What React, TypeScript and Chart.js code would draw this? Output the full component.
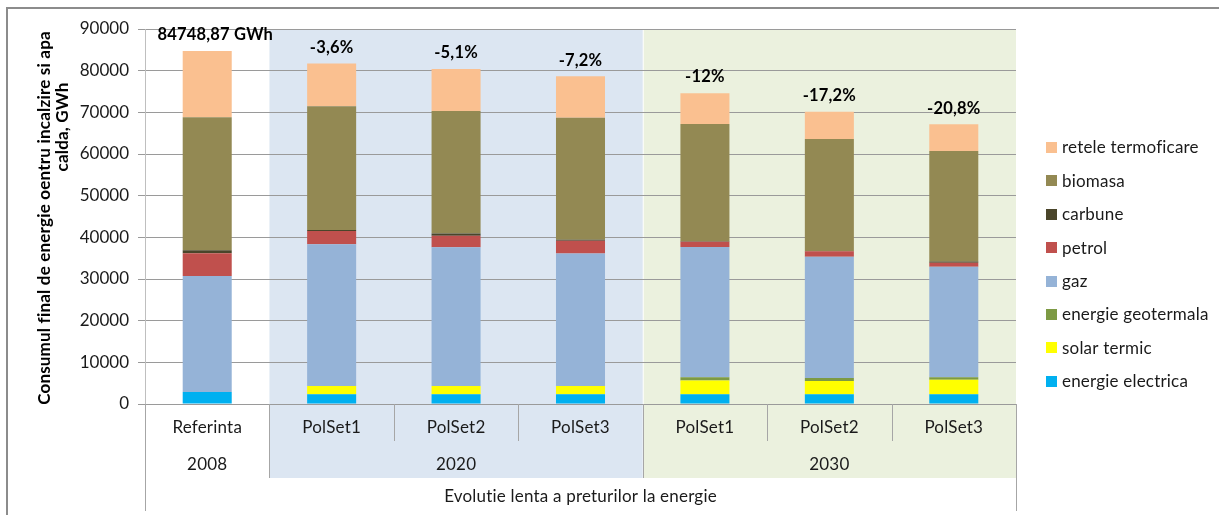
import React, { useEffect, useRef } from 'react';
import { Chart, registerables } from 'chart.js';

Chart.register(...registerables);

const categories = ['Referinta', 'PolSet1', 'PolSet2', 'PolSet3', 'PolSet1', 'PolSet2', 'PolSet3'];
const groupLabels = ['2008', '2020', '2030'];
const groupSizes = [1, 3, 3];
const bottomLabel = 'Evolutie lenta a preturilor la energie';
const topLabels = ['84748,87 GWh', '-3,6%', '-5,1%', '-7,2%', '-12%', '-17,2%', '-20,8%'];
const yTicks = [0, 10000, 20000, 30000, 40000, 50000, 60000, 70000, 80000, 90000];

const energieElectrica = [2900, 2350, 2350, 2350, 2350, 2350, 2350];
const solarTermic = [0, 2000, 2000, 2000, 3300, 3200, 3450];
const energieGeotermala = [0, 0, 0, 0, 800, 700, 650];
const gaz = [27800, 34000, 33300, 31800, 31250, 29100, 26500];
const petrol = [5500, 3200, 2750, 3050, 1250, 1300, 950];
const carbune = [700, 200, 500, 250, 100, 100, 300];
const biomasa = [31900, 29700, 29400, 29250, 28150, 26850, 26550];
const reteleTermoficare = [15950, 10300, 10100, 9950, 7400, 6550, 6400];

const yTitle1 = 'Consumul final de energie oentru incalzire si apa';
const yTitle2 = 'calda, GWh';

const FONT = 'Lato, "Open Sans", sans-serif';

const series = [
  { label: 'energie electrica', data: energieElectrica, color: '#00b0f0' },
  { label: 'solar termic', data: solarTermic, color: '#ffff00' },
  { label: 'energie geotermala', data: energieGeotermala, color: '#7d9a44' },
  { label: 'gaz', data: gaz, color: '#95b3d7' },
  { label: 'petrol', data: petrol, color: '#c0504d' },
  { label: 'carbune', data: carbune, color: '#4a452a' },
  { label: 'biomasa', data: biomasa, color: '#938953' },
  { label: 'retele termoficare', data: reteleTermoficare, color: '#fac090' },
];

const decorPlugin = {
  id: 'decor',
  beforeDraw(chart: any) {
    const { ctx, chartArea, scales } = chart;
    const x = scales.x;
    const n = categories.length;
    const w = x.width / n;
    const edge = (i: number) => x.left + i * w;
    const bottom = chartArea.bottom + 74;
    ctx.save();
    ctx.fillStyle = '#dce6f2';
    ctx.fillRect(edge(1), chartArea.top, edge(4) - edge(1), bottom - chartArea.top);
    ctx.fillStyle = '#ebf1de';
    ctx.fillRect(edge(4) + 1, chartArea.top, edge(7) - edge(4) - 1, bottom - chartArea.top);
    ctx.restore();
  },
  afterDraw(chart: any) {
    const { ctx, chartArea, scales } = chart;
    const x = scales.x;
    const y = scales.y;
    const n = categories.length;
    const w = x.width / n;
    const edge = (i: number) => x.left + i * w;
    const base = chartArea.bottom;
    ctx.save();
    try { (ctx as any).letterSpacing = '0.2px'; } catch (e) { /* ignore */ }
    // dividers
    ctx.strokeStyle = '#a6a6a6';
    ctx.lineWidth = 1;
    const groupEdges: number[] = [0];
    let acc = 0;
    groupSizes.forEach((s) => { acc += s; groupEdges.push(acc); });
    for (let i = 0; i <= n; i++) {
      let len = 37;
      if (groupEdges.includes(i)) len = 74;
      if (i === 0 || i === n) len = 107;
      const px = Math.round(edge(i)) + 0.5;
      ctx.beginPath();
      ctx.moveTo(px, base);
      ctx.lineTo(px, base + len);
      ctx.stroke();
    }
    // category labels
    ctx.fillStyle = '#1a1a1a';
    ctx.font = `17px ${FONT}`;
    ctx.textAlign = 'center';
    ctx.textBaseline = 'middle';
    categories.forEach((c, i) => {
      ctx.fillText(c, edge(i) + w / 2, base + 24);
    });
    let start = 0;
    groupLabels.forEach((g, gi) => {
      const end = start + groupSizes[gi];
      ctx.fillText(g, (edge(start) + edge(end)) / 2, base + 61);
      start = end;
    });
    ctx.fillText(bottomLabel, (edge(0) + edge(n)) / 2, base + 93);

    // top labels
    ctx.font = `bold 16.5px ${FONT}`;
    ctx.fillStyle = '#000';
    topLabels.forEach((t, i) => {
      let tot = 0;
      series.forEach((s) => { tot += s.data[i]; });
      const shift = i === 0 ? 8 : 0;
      ctx.fillText(t, x.getPixelForValue(i) + shift, y.getPixelForValue(tot) - 16);
    });

    // y title
    ctx.font = `bold 17px ${FONT}`;
    ctx.fillStyle = '#000';
    ctx.save();
    ctx.translate(45, 218);
    ctx.rotate(-Math.PI / 2);
    ctx.fillText(yTitle1, 0, 0);
    ctx.restore();
    ctx.save();
    ctx.translate(63, 127);
    ctx.rotate(-Math.PI / 2);
    ctx.fillText(yTitle2, 0, 0);
    ctx.restore();

    // legend
    ctx.font = `17px ${FONT}`;
    ctx.textAlign = 'left';
    const rev = series.slice().reverse();
    rev.forEach((s, k) => {
      const cy = 147 + k * 33.4;
      ctx.fillStyle = s.color;
      ctx.fillRect(1046, Math.round(cy - 5), 11, 11);
      ctx.fillStyle = '#1a1a1a';
      ctx.fillText(s.label, 1062, cy + 1);
    });
    ctx.restore();
  },
};

export default function App() {
  const ref = useRef<HTMLCanvasElement | null>(null);
  useEffect(() => {
    if (!ref.current) return;
    const chart = new Chart(ref.current, {
      type: 'bar',
      data: {
        labels: categories,
        datasets: series.map((s) => ({
          label: s.label,
          data: s.data,
          backgroundColor: s.color,
          borderWidth: 0,
          barPercentage: 0.394,
          categoryPercentage: 1,
        })),
      },
      options: {
        animation: false,
        responsive: true,
        maintainAspectRatio: false,
        layout: { padding: { left: 0, top: 29, right: 203, bottom: 0 } },
        plugins: { legend: { display: false }, tooltip: { enabled: false } },
        scales: {
          x: {
            stacked: true,
            ticks: { display: false },
            grid: { display: false },
            border: { display: false },
            afterFit: (s: any) => { s.height = 111; },
          },
          y: {
            stacked: true,
            min: 0,
            max: 90000,
            afterBuildTicks: (s: any) => { s.ticks = yTicks.map((v) => ({ value: v })); },
            ticks: {
              color: '#1a1a1a',
              font: { family: FONT, size: 17 },
              padding: 9,
              callback: (v: any) => String(v),
            },
            grid: { color: '#9a9a9a', tickLength: 7, tickColor: '#9a9a9a' },
            border: { display: true, color: '#bfbfbf' },
            afterFit: (s: any) => { s.width = 145; },
          },
        },
      },
      plugins: [decorPlugin],
    });
    return () => chart.destroy();
  }, []);
  return (
    <div style={{ position: 'absolute', left: 0, top: 0, width: 1219, height: 515, overflow: 'hidden', background: '#fff' }}>
      <div style={{ position: 'absolute', left: 6, top: 7, width: 1240, height: 540, border: '2px solid #8c8c8c' }} />
      <div style={{ position: 'absolute', left: 0, top: 0, width: 1219, height: 515 }}>
        <canvas ref={ref} />
      </div>
    </div>
  );
}
